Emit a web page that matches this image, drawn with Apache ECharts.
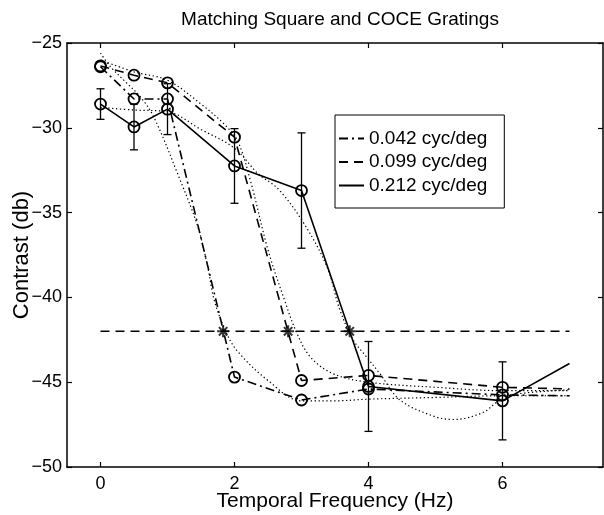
<!DOCTYPE html>
<html>
<head>
<meta charset="utf-8">
<script src="https://cdn.jsdelivr.net/npm/echarts@6/dist/echarts.min.js"></script>
<style>html,body{margin:0;padding:0;background:#fff}#c{width:604px;height:515px}</style>
</head>
<body>
<div id="c"></div>
<script>
// ---- data ----
const titleText = 'Matching Square and COCE Gratings';
const xName = 'Temporal Frequency (Hz)';
const yName = 'Contrast (db)';
const xTicks = [0, 2, 4, 6];
const legendNames = ['0.042 cyc/deg', '0.099 cyc/deg', '0.212 cyc/deg'];

const freqs = [0, 0.5, 1, 2, 3, 4, 6, 7];
const y042 = [-26.4, -28.3, -28.3, -44.7, -46.05, -45.4, -45.75, -45.8];
const y099 = [-26.35, -26.9, -27.35, -30.55, -44.9, -44.6, -45.3, -45.4];
const y212 = [-28.6, -29.95, -28.9, -32.25, -33.7, -45.25, -46.1, -43.9];
const err212 = [0.9, 1.35, 1.5, 2.2, 3.4, 2.65, 2.3];
const markedCount = 7; // points with circle markers (last point unmarked)

const threshX = [0, 7];
const threshY = [-42, -42];
const starX = [1.83, 2.8, 3.72];
const starY = [-42, -42, -42];

const fit042X = [0, 0.15, 0.35, 0.6, 0.8, 1.15, 1.45, 1.6, 1.7, 1.88, 2.05, 2.5, 3.0, 3.5, 4, 5, 6, 7];
const fit042Y = [-25.6, -26.4, -27.2, -28.2, -29.4, -32.7, -35.8, -38.2, -40.2, -42.1, -43.2, -44.9, -46.1, -46.1, -46.0, -45.9, -45.8, -45.8];
const fit099X = [0, 0.5, 1, 1.5, 1.85, 2.05, 2.25, 2.5, 2.75, 2.93, 3.13, 3.47, 4, 5, 6, 7];
const fit099Y = [-26.0, -26.7, -27.2, -28.6, -29.8, -30.8, -33.3, -37.2, -40.2, -42.1, -43.5, -44.5, -45.0, -45.3, -45.5, -45.5];
const fit212X = [0, 0.5, 1, 1.5, 2, 2.35, 2.65, 3.03, 3.38, 3.57, 3.77, 3.97, 4.17, 4.47, 4.97, 5.27, 5.7, 5.96, 6.2, 7];
const fit212Y = [-28.8, -28.95, -29.05, -30.1, -31.2, -32.7, -33.6, -35.6, -38.2, -40.7, -42.5, -43.5, -44.5, -46.05, -47.0, -47.2, -46.8, -46.05, -45.7, -45.45];

// ---- chart ----
const FONT = '"Liberation Sans", Arial, Helvetica, sans-serif';
const zip = (xs, ys) => xs.map((x, i) => [x, ys[i]]);
const marked = (ys) => freqs.map((x, i) => i < markedCount ? [x, ys[i]] : {value: [x, ys[i]], symbol: 'none'});
const circleStyle = {color: 'transparent', borderColor: '#000', borderWidth: 1.8};
const STAR = 'path://M-1,-0.17L1,-0.17L1,0.17L-1,0.17Z M-0.17,-1L0.17,-1L0.17,1L-0.17,1Z M-0.82,-0.58L-0.58,-0.82L0.82,0.58L0.58,0.82Z M0.58,-0.82L0.82,-0.58L-0.58,0.82L-0.82,0.58Z';

const chart = echarts.init(document.getElementById('c'), null, {renderer: 'canvas'});
const axisLine = {show: true, onZero: false, lineStyle: {color: '#000', width: 1.5}};
const tickStyle = {color: '#000', width: 1.2};
const dotted = [1.3, 2.6];

chart.setOption({
  animation: false,
  backgroundColor: '#fff',
  textStyle: {fontFamily: FONT},
  title: {text: titleText, left: 335, textAlign: 'center', top: 5,
    textStyle: {fontSize: 19, fontWeight: 'normal', color: '#000', fontFamily: FONT}},
  grid: {left: 67, right: 1, top: 43, bottom: 48, containLabel: false, outerBoundsMode: 'none'},
  legend: {
    data: legendNames, orient: 'vertical', left: 335, top: 115,
    backgroundColor: '#fff', borderColor: '#000', borderWidth: 1, borderRadius: 0,
    padding: [14, 17, 13, 3], itemWidth: 25, itemHeight: 14, itemGap: 4.5,
    itemStyle: {opacity: 0},
    textStyle: {fontSize: 19, color: '#000', fontFamily: FONT, lineHeight: 18}
  },
  xAxis: [{
    type: 'value', min: -0.5, max: 7.5, position: 'bottom',
    axisLine: axisLine,
    axisTick: {inside: true, length: 5, customValues: xTicks, lineStyle: tickStyle},
    axisLabel: {customValues: xTicks, fontSize: 18, color: '#000', margin: 8, fontFamily: FONT},
    splitLine: {show: false},
    name: xName, nameLocation: 'middle', nameGap: 24, nameMoveOverlap: false,
    nameTextStyle: {fontSize: 21, color: '#000', fontFamily: FONT}
  }, {
    type: 'value', min: -0.5, max: 7.5, position: 'top',
    axisLine: axisLine,
    axisTick: {inside: true, length: 5, customValues: xTicks, lineStyle: tickStyle},
    axisLabel: {show: false}, splitLine: {show: false}
  }],
  yAxis: [{
    type: 'value', min: -50, max: -25, interval: 5, position: 'left',
    axisLine: axisLine,
    axisTick: {inside: true, length: 5, lineStyle: tickStyle},
    axisLabel: {fontSize: 18, color: '#000', margin: 5, fontFamily: FONT,
      formatter: v => String(v).replace('-', '\u2212')},
    splitLine: {show: false},
    name: yName, nameLocation: 'middle', nameGap: 34, nameMoveOverlap: false,
    nameTextStyle: {fontSize: 22, color: '#000', fontFamily: FONT}
  }, {
    type: 'value', min: -50, max: -25, interval: 5, position: 'right',
    axisLine: axisLine,
    axisTick: {inside: true, length: 5, lineStyle: tickStyle},
    axisLabel: {show: false}, splitLine: {show: false}
  }],
  series: [
    {name: 'fit042', type: 'line', data: zip(fit042X, fit042Y), smooth: 0.35, showSymbol: false, symbol: 'none',
      lineStyle: {color: '#000', width: 1.2, type: dotted}, z: 2},
    {name: 'fit099', type: 'line', data: zip(fit099X, fit099Y), smooth: 0.35, showSymbol: false, symbol: 'none',
      lineStyle: {color: '#000', width: 1.2, type: dotted}, z: 2},
    {name: 'fit212', type: 'line', data: zip(fit212X, fit212Y), smooth: 0.35, showSymbol: false, symbol: 'none',
      lineStyle: {color: '#000', width: 1.2, type: dotted}, z: 2},
    {name: 'threshold', type: 'line', data: zip(threshX, threshY), symbol: 'none',
      lineStyle: {color: '#000', width: 1.6, type: [9, 6]}, z: 3},
    {name: 'stars', type: 'scatter', data: zip(starX, starY), symbol: STAR, symbolSize: 12,
      itemStyle: {color: '#000'}, z: 6},
    {name: 'errbars', type: 'custom', z: 4,
      data: err212.map((e, i) => [freqs[i], y212[i] - e, y212[i] + e]),
      renderItem: (params, api) => {
        const x = api.value(0), lo = api.value(1), hi = api.value(2);
        const a = api.coord([x, hi]), b = api.coord([x, lo]);
        const w = 4, st = {stroke: '#000', lineWidth: 1.3};
        return {type: 'group', children: [
          {type: 'line', shape: {x1: a[0], y1: a[1], x2: b[0], y2: b[1]}, style: st},
          {type: 'line', shape: {x1: a[0] - w, y1: a[1], x2: a[0] + w, y2: a[1]}, style: st},
          {type: 'line', shape: {x1: b[0] - w, y1: b[1], x2: b[0] + w, y2: b[1]}, style: st}
        ]};
      }},
    {name: legendNames[0], type: 'line', data: marked(y042), symbol: 'circle', symbolSize: 11,
      itemStyle: circleStyle, lineStyle: {color: '#000', width: 1.6, type: [9, 4, 2, 4]}, z: 5},
    {name: legendNames[1], type: 'line', data: marked(y099), symbol: 'circle', symbolSize: 11,
      itemStyle: circleStyle, lineStyle: {color: '#000', width: 1.6, type: [9, 6]}, z: 5},
    {name: legendNames[2], type: 'line', data: marked(y212), symbol: 'circle', symbolSize: 11,
      itemStyle: circleStyle, lineStyle: {color: '#000', width: 1.6, type: 'solid'}, z: 5}
  ]
});
</script>
</body>
</html>
